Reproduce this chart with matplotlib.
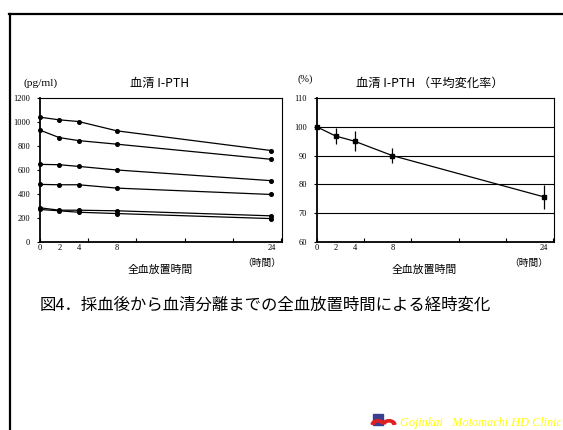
import matplotlib
matplotlib.use("Agg")
import matplotlib.pyplot as plt
from matplotlib.lines import Line2D
from matplotlib.patches import Wedge, Rectangle

# ---- data ----
hours = [0, 2, 4, 8, 24]
hour_labels = ["0", "2", "4", "8", "24"]

pth_s1 = [1040, 1018, 1004, 926, 762]
pth_s2 = [932, 870, 845, 815, 689]
pth_s3 = [647, 644, 630, 600, 511]
pth_s4 = [480, 477, 477, 449, 396]
pth_s5 = [285, 265, 265, 260, 218]
pth_s6 = [271, 260, 248, 237, 195]
pth_series = [pth_s1, pth_s2, pth_s3, pth_s4, pth_s5, pth_s6]

pct_mean = [100.0, 96.8, 95.0, 90.0, 75.7]
pct_err = [0.0, 2.9, 3.4, 2.7, 4.2]

left_yticks = [0, 200, 400, 600, 800, 1000, 1200]
right_yticks = [60, 70, 80, 90, 100, 110]

JP = "Noto Sans CJK JP"
SERIF = "Liberation Serif"

W, H = 563, 430
fig = plt.figure(figsize=(W / 100, H / 100), dpi=100)
fig.patch.set_facecolor("white")


def fx(px):
    return px / W


def fy(py):
    return 1 - py / H


# slide frame (top and left rules)
fig.add_artist(Line2D([fx(9), fx(563)], [fy(14), fy(14)], color="black", lw=1.6))
fig.add_artist(Line2D([fx(10), fx(10)], [fy(14), fy(430)], color="black", lw=1.6))


def style_axes(ax, yticks):
    ax.set_xlim(0, 25.1)
    for side in ["left", "bottom"]:
        ax.spines[side].set_linewidth(1.3)
    for side in ["top", "right"]:
        ax.spines[side].set_linewidth(0.8)
    ax.set_xticks([0, 5, 10, 15, 20, 25])
    ax.set_xticklabels([])
    ax.tick_params(axis="x", direction="in", length=3, width=0.8)
    ax.set_yticks(yticks)
    ax.set_yticklabels([str(v) for v in yticks], fontfamily=SERIF, fontsize=6)
    ax.tick_params(axis="y", direction="out", length=2, width=0.8, pad=5)
    for h, lab in zip(hours, hour_labels):
        ax.text(h, -0.045, lab, transform=ax.get_xaxis_transform(),
                ha="center", va="center", fontfamily=SERIF, fontsize=6)


# ---- left: individual I-PTH values ----
ax1 = fig.add_axes([fx(40), fy(242), fx(282) - fx(40), fy(98) - fy(242)])
ax1.set_ylim(0, 1200)
style_axes(ax1, left_yticks)
for s in pth_series:
    ax1.plot(hours, s, color="black", lw=0.9, marker="o", markersize=2.6,
             clip_on=False, zorder=3)

fig.text(fx(41), fy(83), "(pg/ml)", fontfamily=SERIF, fontsize=8.2, ha="center", va="center")
fig.text(fx(160), fy(83), "血清 I-PTH", fontfamily=JP, fontsize=8.8, ha="center", va="center")
fig.text(fx(160), fy(270), "全血放置時間", fontfamily=JP, fontsize=7.8, ha="center", va="center")
fig.text(fx(262), fy(263), "（時間）", fontfamily=JP, fontsize=7, ha="center", va="center")

# ---- right: mean rate of change ----
ax2 = fig.add_axes([fx(316.7), fy(242), fx(554) - fx(316.7), fy(98) - fy(242)])
ax2.set_ylim(60, 110)
style_axes(ax2, right_yticks)
for g in [70, 80, 90, 100]:
    ax2.axhline(g, color="black", lw=0.8, zorder=1)
ax2.errorbar(hours, pct_mean, yerr=pct_err, color="black", lw=0.9, elinewidth=0.9,
             capsize=0, marker="s", markersize=2.6, clip_on=False, zorder=3)

fig.text(fx(305), fy(79), "(%)", fontfamily=SERIF, fontsize=7.5, ha="center", va="center")
fig.text(fx(430), fy(83), "血清 I-PTH （平均変化率）", fontfamily=JP, fontsize=8.8,
         ha="center", va="center")
fig.text(fx(424), fy(270), "全血放置時間", fontfamily=JP, fontsize=7.8, ha="center", va="center")
fig.text(fx(529), fy(263), "（時間）", fontfamily=JP, fontsize=7, ha="center", va="center")

# ---- caption ----
fig.text(fx(40), fy(305), "図4．採血後から血清分離までの全血放置時間による経時変化",
         fontfamily=JP, fontsize=11.8, ha="left", va="center")

# ---- footer mark and clinic name ----
fig.add_artist(Rectangle((fx(373), fy(425)), fx(10), fy(414) - fy(425),
                         color="#3a3f8f", transform=fig.transFigure))
fig.add_artist(Wedge((fx(378), fy(425)), fx(7), 20, 170, width=fx(3),
                     color="#e02020", transform=fig.transFigure))
fig.add_artist(Wedge((fx(389), fy(425)), fx(7), 10, 160, width=fx(3),
                     color="#e02020", transform=fig.transFigure))
fig.text(fx(400), fy(423), "Gojinkai   Motomachi HD Clinic", color="#ffff00",
         fontfamily=SERIF, fontstyle="italic", fontsize=8.8, ha="left", va="center")

fig.savefig("out.png", dpi=100)
